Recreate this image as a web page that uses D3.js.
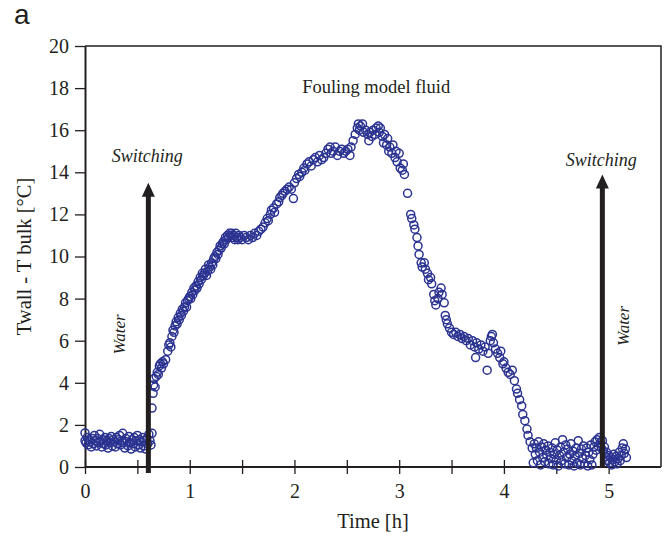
<!DOCTYPE html>
<html>
<head>
<meta charset="utf-8">
<script src="https://cdn.jsdelivr.net/npm/d3@7"></script>
<style>
  body { margin: 0; background: #fff; }
  svg text { font-family: "Liberation Serif", "Times New Roman", serif; fill: #231f20; }
</style>
</head>
<body>
<svg id="chart" width="665" height="536"></svg>
<script>
// --- data: [time h, Twall - Tbulk degC] ---
var waterBefore = [[0.00,1.62],[0.00,1.25],[0.01,1.15],[0.02,1.40],[0.03,1.05],[0.04,1.30],[0.05,1.20],[0.06,0.95],[0.07,1.35],[0.08,1.10],[0.09,1.50],[0.10,1.25],[0.11,1.00],[0.12,1.35],[0.13,1.15],[0.14,1.55],[0.15,1.20],[0.16,0.95],[0.17,1.30],[0.18,1.10],[0.19,1.40],[0.20,1.05],[0.21,1.25],[0.22,0.90],[0.23,1.35],[0.24,1.15],[0.25,1.45],[0.26,1.00],[0.27,1.30],[0.28,1.20],[0.29,0.95],[0.30,1.40],[0.31,1.10],[0.32,1.30],[0.33,1.50],[0.34,1.05],[0.35,1.25],[0.36,1.60],[0.37,1.15],[0.38,0.90],[0.39,1.35],[0.40,1.20],[0.41,1.00],[0.42,1.45],[0.43,1.15],[0.44,0.85],[0.45,1.30],[0.46,1.10],[0.47,1.40],[0.48,0.95],[0.49,1.25],[0.50,1.50],[0.51,1.05],[0.52,1.30],[0.53,0.90],[0.54,1.20],[0.55,1.40],[0.56,1.00],[0.57,1.25],[0.58,0.85],[0.59,1.35],[0.60,1.10],[0.61,1.55],[0.62,1.25],[0.63,1.05]];

var fouling = [[0.64,1.60],[0.64,2.80],[0.65,3.50],[0.655,3.90],[0.66,4.20],[0.67,3.80],[0.68,4.30],[0.69,4.50],[0.70,4.40],[0.71,4.80],[0.72,4.90],[0.73,4.70],[0.74,5.00],[0.75,4.90],[0.77,5.10],[0.79,5.50],[0.80,5.80],[0.81,5.90],[0.82,5.70],[0.83,6.20],[0.84,6.50],[0.85,6.40],[0.86,6.70],[0.87,6.90],[0.88,6.80],[0.89,7.10],[0.90,7.00],[0.91,7.30],[0.92,7.20],[0.93,7.50],[0.94,7.40],[0.95,7.60],[0.96,7.80],[0.97,7.60],[0.98,7.90],[0.99,8.00],[1.00,8.10],[1.01,8.00],[1.02,8.30],[1.03,8.20],[1.04,8.50],[1.05,8.40],[1.06,8.60],[1.07,8.50],[1.08,8.80],[1.09,8.70],[1.10,9.00],[1.11,8.90],[1.12,9.20],[1.13,9.10],[1.14,9.20],[1.15,9.40],[1.16,9.10],[1.17,9.30],[1.18,9.60],[1.19,9.50],[1.20,9.40],[1.21,9.70],[1.22,9.60],[1.23,9.90],[1.24,10.00],[1.25,9.90],[1.26,10.20],[1.27,10.10],[1.28,10.30],[1.29,10.50],[1.30,10.40],[1.31,10.60],[1.32,10.70],[1.33,10.60],[1.34,10.90],[1.35,10.80],[1.36,11.00],[1.37,10.90],[1.38,11.10],[1.39,11.00],[1.40,11.10],[1.41,10.90],[1.42,11.00],[1.43,10.80],[1.44,11.10],[1.45,10.90],[1.46,10.80],[1.47,11.00],[1.48,10.90],[1.50,10.80],[1.52,11.00],[1.54,10.90],[1.56,10.80],[1.58,11.00],[1.60,10.90],[1.62,11.10],[1.64,11.00],[1.66,11.20],[1.68,11.30],[1.70,11.40],[1.72,11.60],[1.74,11.80],[1.75,11.70],[1.77,12.00],[1.78,12.20],[1.80,12.30],[1.81,12.10],[1.83,12.50],[1.85,12.60],[1.86,12.80],[1.88,12.90],[1.89,13.00],[1.91,13.10],[1.93,13.20],[1.95,13.30],[1.97,13.20],[1.99,12.75],[2.00,13.50],[2.02,13.70],[2.04,13.90],[2.05,13.80],[2.07,14.00],[2.09,14.20],[2.10,14.10],[2.12,14.40],[2.14,14.50],[2.16,14.30],[2.18,14.60],[2.20,14.70],[2.22,14.50],[2.24,14.80],[2.26,14.60],[2.28,14.70],[2.30,14.90],[2.32,15.10],[2.34,15.20],[2.35,14.90],[2.37,15.00],[2.39,15.20],[2.41,14.80],[2.43,15.00],[2.45,15.10],[2.47,14.90],[2.49,15.00],[2.51,15.10],[2.53,14.80],[2.54,15.20],[2.56,15.50],[2.58,15.80],[2.60,16.10],[2.61,16.30],[2.62,16.00],[2.63,16.20],[2.65,16.30],[2.66,15.90],[2.68,16.00],[2.70,15.80],[2.71,15.50],[2.72,15.90],[2.74,15.70],[2.75,16.00],[2.77,15.80],[2.78,16.10],[2.80,16.20],[2.81,15.90],[2.82,16.10],[2.84,15.70],[2.85,15.40],[2.86,15.80],[2.88,15.30],[2.89,15.60],[2.90,15.00],[2.91,15.20],[2.93,14.90],[2.94,15.30],[2.96,14.70],[2.97,15.00],[2.98,14.50],[3.00,14.90],[3.01,14.20],[3.03,14.10],[3.04,14.40],[3.05,13.90],[3.08,13.00],[3.11,12.00],[3.12,11.80],[3.14,11.50],[3.15,11.30],[3.17,10.90],[3.18,10.50],[3.19,10.10],[3.21,9.70],[3.22,9.50],[3.24,9.70],[3.25,9.40],[3.27,9.20],[3.28,8.90],[3.30,9.00],[3.31,8.70],[3.33,8.20],[3.34,7.90],[3.35,7.70],[3.37,8.00],[3.38,8.30],[3.40,8.50],[3.41,8.20],[3.43,7.80],[3.44,7.20],[3.45,7.00],[3.46,6.80],[3.48,6.60],[3.50,6.40],[3.52,6.30],[3.54,6.40],[3.56,6.20],[3.58,6.30],[3.60,6.10],[3.62,6.20],[3.64,6.00],[3.66,6.10],[3.68,5.80],[3.70,6.00],[3.72,5.70],[3.73,5.20],[3.74,5.90],[3.76,5.60],[3.78,5.80],[3.80,5.50],[3.82,5.70],[3.84,4.60],[3.85,5.40],[3.87,6.00],[3.88,6.20],[3.89,6.30],[3.90,5.90],[3.92,5.60],[3.94,5.40],[3.96,5.20],[3.97,5.50],[3.99,4.90],[4.00,5.00],[4.02,4.70],[4.04,4.50],[4.06,4.40],[4.08,4.60],[4.10,4.10],[4.12,3.70],[4.13,3.50],[4.15,3.20],[4.17,2.90],[4.18,2.50],[4.20,2.20],[4.22,1.80],[4.23,1.50],[4.25,1.20],[4.27,0.90]];

var waterAfter = [[4.28,0.20],[4.29,1.10],[4.30,0.60],[4.31,0.90],[4.32,0.30],[4.33,1.20],[4.34,0.70],[4.35,0.10],[4.36,0.95],[4.37,0.45],[4.38,1.10],[4.39,0.25],[4.40,0.80],[4.41,0.55],[4.42,1.00],[4.43,0.15],[4.44,0.70],[4.45,0.40],[4.46,0.90],[4.47,0.10],[4.48,0.60],[4.49,1.15],[4.50,0.35],[4.51,0.80],[4.52,0.05],[4.53,0.55],[4.54,0.95],[4.55,0.30],[4.56,1.30],[4.57,0.70],[4.58,0.15],[4.59,1.05],[4.60,0.45],[4.61,0.85],[4.62,0.10],[4.63,0.60],[4.64,1.10],[4.65,0.30],[4.66,0.75],[4.67,0.05],[4.68,0.50],[4.69,0.90],[4.70,0.20],[4.71,1.25],[4.72,0.65],[4.73,0.10],[4.74,0.85],[4.75,0.40],[4.76,1.00],[4.77,0.15],[4.78,0.55],[4.79,0.90],[4.80,0.05],[4.81,0.70],[4.82,0.35],[4.83,1.05],[4.84,0.10],[4.85,0.60],[4.86,0.95],[4.87,1.20],[4.88,0.80],[4.89,1.30],[4.90,1.00],[4.91,1.40],[4.92,1.15],[4.93,0.90],[4.94,1.25],[4.95,0.75],[4.96,0.95],[4.97,0.50],[4.98,0.70],[4.99,0.30],[5.00,0.55],[5.01,0.20],[5.02,0.45],[5.03,0.10],[5.04,0.35],[5.05,0.60],[5.06,0.25],[5.07,0.50],[5.08,0.15],[5.09,0.40],[5.10,0.70],[5.11,0.30],[5.12,0.55],[5.13,0.90],[5.14,1.10],[5.15,0.65],[5.16,0.85],[5.17,0.45]];

var xTicks = [0, 0.5, 1, 1.5, 2, 2.5, 3, 3.5, 4, 4.5, 5];
var xLabels = [0, 1, 2, 3, 4, 5];
var yTicks = [0, 2, 4, 6, 8, 10, 12, 14, 16, 18, 20];
var switchTimes = [0.605, 4.94];   // arrows
var arrowTops = [13.5, 13.9];
var switchLabelY = [14.5, 14.3];
var waterLabelY = [6.3, 6.7];

var svg = d3.select("#chart"),
	margin = {top: 46, right: 4, bottom: 69, left: 85},
	width = +svg.attr("width") - margin.left - margin.right,
	height = +svg.attr("height") - margin.top - margin.bottom;

var ink = "#231f20";

var x = d3.scaleLinear().domain([0, 5.5]).range([0, width]);
var y = d3.scaleLinear().domain([0, 20]).range([height, 0]);

var g = svg.append("g")
		.attr("transform", "translate(" + margin.left + "," + margin.top + ")");

// frame (top + right)
g.append("path")
	.attr("d", "M0,0H" + width + "V" + height)
	.attr("fill", "none").attr("stroke", ink).attr("stroke-width", 1.5);

// x axis: ticks every 0.5 crossing the line, labels on integers
var xAxis = g.append("g")
	.attr("transform", "translate(0," + height + ")")
	.call(d3.axisBottom(x).tickValues(xTicks).tickSize(7).tickFormat(function(d) {
		return xLabels.indexOf(d) >= 0 ? d : "";
	}).tickSizeOuter(0));
xAxis.select(".domain").attr("stroke", ink).attr("stroke-width", 2).attr("d", "M0,0H" + width);
xAxis.selectAll(".tick line").attr("stroke", ink).attr("stroke-width", 1.3).attr("y1", -7);
xAxis.selectAll(".tick text").attr("font-size", 20).attr("fill", ink)
	.attr("font-family", "Liberation Serif").attr("dy", "1.05em");

var yAxis = g.append("g")
	.call(d3.axisLeft(y).tickValues(yTicks).tickSize(10).tickSizeOuter(0).tickPadding(6));
yAxis.select(".domain").attr("stroke", ink).attr("stroke-width", 2);
yAxis.selectAll(".tick line").attr("stroke", ink).attr("stroke-width", 1.3);
yAxis.selectAll(".tick text").attr("font-size", 20).attr("fill", ink)
	.attr("font-family", "Liberation Serif");

// scatter points
var points = waterBefore.concat(fouling, waterAfter);
g.selectAll(".pt")
	.data(points)
  .enter().append("circle")
	.attr("class", "pt")
	.attr("cx", function(d) { return x(d[0]); })
	.attr("cy", function(d) { return y(d[1]); })
	.attr("r", 4)
	.attr("fill", "none")
	.attr("stroke", "#2b3391")
	.attr("stroke-width", 1.5);

// switching arrows: shaft + triangular head
g.selectAll(".arrow")
	.data(switchTimes)
  .enter().append("line")
	.attr("class", "arrow")
	.attr("x1", function(d) { return x(d); })
	.attr("x2", function(d) { return x(d); })
	.attr("y1", function(d, i) { return i === 0 ? height + 6 : height; })
	.attr("y2", function(d, i) { return y(arrowTops[i]) + 12; })
	.attr("stroke", ink).attr("stroke-width", 5);

g.selectAll(".head")
	.data(switchTimes)
  .enter().append("path")
	.attr("class", "head")
	.attr("d", function(d, i) {
		var cx = x(d), ty = y(arrowTops[i]);
		return "M" + cx + "," + ty + "L" + (cx + 6.5) + "," + (ty + 14) + "L" + (cx - 6.5) + "," + (ty + 14) + "Z";
	})
	.attr("fill", ink);

g.selectAll(".sw")
	.data(switchTimes)
  .enter().append("text")
	.attr("x", function(d) { return x(d) - 1; })
	.attr("y", function(d, i) { return y(switchLabelY[i]); })
	.attr("text-anchor", "middle")
	.attr("font-size", 18).attr("font-style", "italic")
	.text("Switching");

g.selectAll(".water")
	.data(switchTimes)
  .enter().append("text")
	.attr("transform", function(d, i) {
		var px = i === 0 ? x(d) - 23 : x(d) + 27;
		return "translate(" + px + "," + y(waterLabelY[i]) + ") rotate(-90)";
	})
	.attr("text-anchor", "middle")
	.attr("font-size", 17).attr("font-style", "italic")
	.text("Water");

g.append("text")
	.attr("x", x(2.78)).attr("y", y(17.77))
	.attr("text-anchor", "middle").attr("font-size", 18.5)
	.text("Fouling model fluid");

// axis titles
svg.append("text")
	.attr("x", margin.left + x(2.75)).attr("y", 528)
	.attr("text-anchor", "middle").attr("font-size", 20.5)
	.text("Time [h]");

svg.append("text")
	.attr("transform", "translate(31," + (margin.top + y(10)) + ") rotate(-90)")
	.attr("text-anchor", "middle").attr("font-size", 20.5)
	.text("Twall - T bulk [°C]");

svg.append("text")
	.attr("x", 14).attr("y", 24)
	.attr("font-size", 28)
	.style("font-family", "Liberation Sans, Arial, sans-serif")
	.text("a");
</script>
</body>
</html>
